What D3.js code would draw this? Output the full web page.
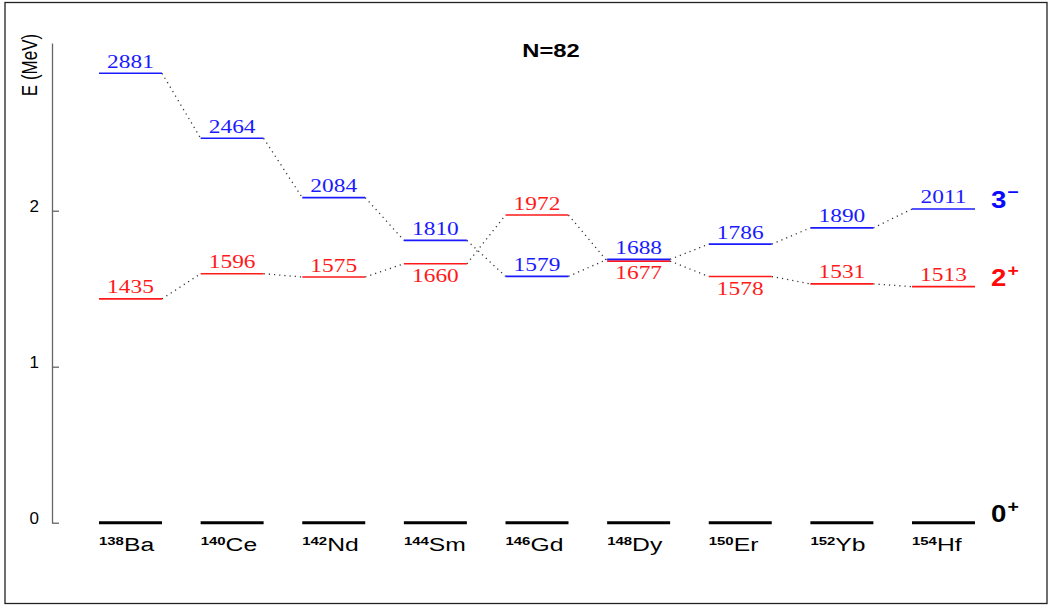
<!DOCTYPE html>
<html>
<head>
<meta charset="utf-8">
<script src="https://cdn.jsdelivr.net/npm/d3@7"></script>
<style>
  html, body { margin: 0; padding: 0; background: #fff; }
  svg { display: block; }
</style>
</head>
<body>
<svg id="chart" width="1050" height="605"></svg>
<script>
// ---- data ----
const massNumbers = ["138", "140", "142", "144", "146", "148", "150", "152", "154"];
const elements = ["Ba", "Ce", "Nd", "Sm", "Gd", "Dy", "Er", "Yb", "Hf"];
const e2plus = [1435, 1596, 1575, 1660, 1972, 1677, 1578, 1531, 1513];   // keV
const e3minus = [2881, 2464, 2084, 1810, 1579, 1688, 1786, 1890, 2011];  // keV
const side2plus = ["above", "above", "above", "below", "above", "below", "below", "above", "above"];
const side3minus = ["above", "above", "above", "above", "above", "above", "above", "above", "above"];
const yTicks = [0, 1, 2];
const title = "N=82";
const yLabel = "E (MeV)";

// ---- layout ----
const svg = d3.select("#chart");
const SX = 1.3; // horizontal text stretch seen in reference
const nuclei = elements.map((e, i) => massNumbers[i] + e);

const x = d3.scalePoint().domain(nuclei).range([130.5, 943.5]);
const barW = 63;
const y = d3.scaleLinear().domain([0, 3.075]).range([522.7, 43]);

// frame
svg.append("rect").attr("x", 5).attr("y", 2.5).attr("width", 1042).attr("height", 601)
  .attr("fill", "none").attr("stroke", "#222").attr("stroke-width", 1.3);

// y axis
const axis = d3.axisLeft(y).tickValues(yTicks).tickFormat(d3.format("d"))
  .tickSize(-7).tickSizeOuter(0).tickPadding(13);
const gAxis = svg.append("g").attr("transform", "translate(52,0)").call(axis);
gAxis.select(".domain").attr("stroke", "#666").attr("stroke-width", 1.3);
gAxis.selectAll(".tick line").attr("stroke", "#666").attr("stroke-width", 1.3);
gAxis.selectAll(".tick text")
  .attr("font-family", "Liberation Sans, Arial, sans-serif")
  .attr("font-size", 17).attr("fill", "#000").attr("dy", "0.06em");

// axis label
svg.append("text")
  .attr("transform", "translate(37,65) rotate(-90) scale(1,1.25)")
  .attr("text-anchor", "middle")
  .attr("font-family", "Liberation Sans, Arial, sans-serif")
  .attr("font-size", 17).text(yLabel);

// title
svg.append("text")
  .attr("transform", `translate(551,56.5) scale(1.25,1)`)
  .attr("text-anchor", "middle")
  .attr("font-family", "Liberation Sans, Arial, sans-serif")
  .attr("font-weight", "bold").attr("font-size", 19).text(title);

// ground state bars
svg.append("g").selectAll("line").data(nuclei).join("line")
  .attr("x1", d => x(d) - barW / 2).attr("x2", d => x(d) + barW / 2)
  .attr("y1", y(0)).attr("y2", y(0))
  .attr("stroke", "#000").attr("stroke-width", 3);

// nucleus labels
const nl = svg.append("g").selectAll("text").data(nuclei).join("text")
  .attr("transform", d => `translate(${x(d) - barW / 2},550.5) scale(${SX},1)`)
  .attr("font-family", "Liberation Sans, Arial, sans-serif");
nl.append("tspan").attr("font-size", 11.5).attr("font-weight", "bold").attr("dy", -6)
  .text((d, i) => massNumbers[i]);
nl.append("tspan").attr("font-size", 19).attr("dy", 6).text((d, i) => elements[i]);

// excited levels
const series = [
  { values: e2plus, sides: side2plus, color: "#ff1a1a" },
  { values: e3minus, sides: side3minus, color: "#1a1aff" }
];

series.forEach(s => {
  const pts = s.values.map((v, i) => ({ n: nuclei[i], e: v / 1000, side: s.sides[i], v }));
  const g = svg.append("g");
  // dotted connectors
  g.selectAll("line.conn").data(d3.pairs(pts)).join("line")
    .attr("class", "conn")
    .attr("x1", d => x(d[0].n) + barW / 2).attr("y1", d => y(d[0].e))
    .attr("x2", d => x(d[1].n) - barW / 2).attr("y2", d => y(d[1].e))
    .attr("stroke", "#333").attr("stroke-width", 1.3)
    .attr("stroke-dasharray", "1.2,4");
  // level bars
  g.selectAll("line.lvl").data(pts).join("line")
    .attr("class", "lvl")
    .attr("x1", d => x(d.n) - barW / 2).attr("x2", d => x(d.n) + barW / 2)
    .attr("y1", d => y(d.e)).attr("y2", d => y(d.e))
    .attr("stroke", s.color).attr("stroke-width", 1.6);
  // energy labels
  g.selectAll("text").data(pts).join("text")
    .attr("transform", d => `translate(${x(d.n)},${y(d.e) + (d.side === "above" ? -5.5 : 18)}) scale(1.3,1)`)
    .attr("text-anchor", "middle")
    .attr("font-family", "Liberation Serif, Times New Roman, serif")
    .attr("font-size", 18).attr("fill", s.color)
    .text(d => d.v);
});

// spin-parity labels
const jpi = [
  { j: "3", p: "\u2212", e: e3minus[e3minus.length - 1] / 1000, color: "#0a0aff" },
  { j: "2", p: "+", e: e2plus[e2plus.length - 1] / 1000, color: "#ff0a0a" },
  { j: "0", p: "+", e: 0, color: "#000" }
];
const jl = svg.append("g").selectAll("text").data(jpi).join("text")
  .attr("transform", d => `translate(991,${y(d.e) - 1}) scale(1.15,1)`)
  .attr("font-family", "Liberation Sans, Arial, sans-serif")
  .attr("font-weight", "bold").attr("fill", d => d.color);
jl.append("tspan").attr("font-size", 24).text(d => d.j);
jl.append("tspan").attr("font-size", 17).attr("dy", -10).attr("dx", 1).text(d => d.p);
</script>
</body>
</html>
